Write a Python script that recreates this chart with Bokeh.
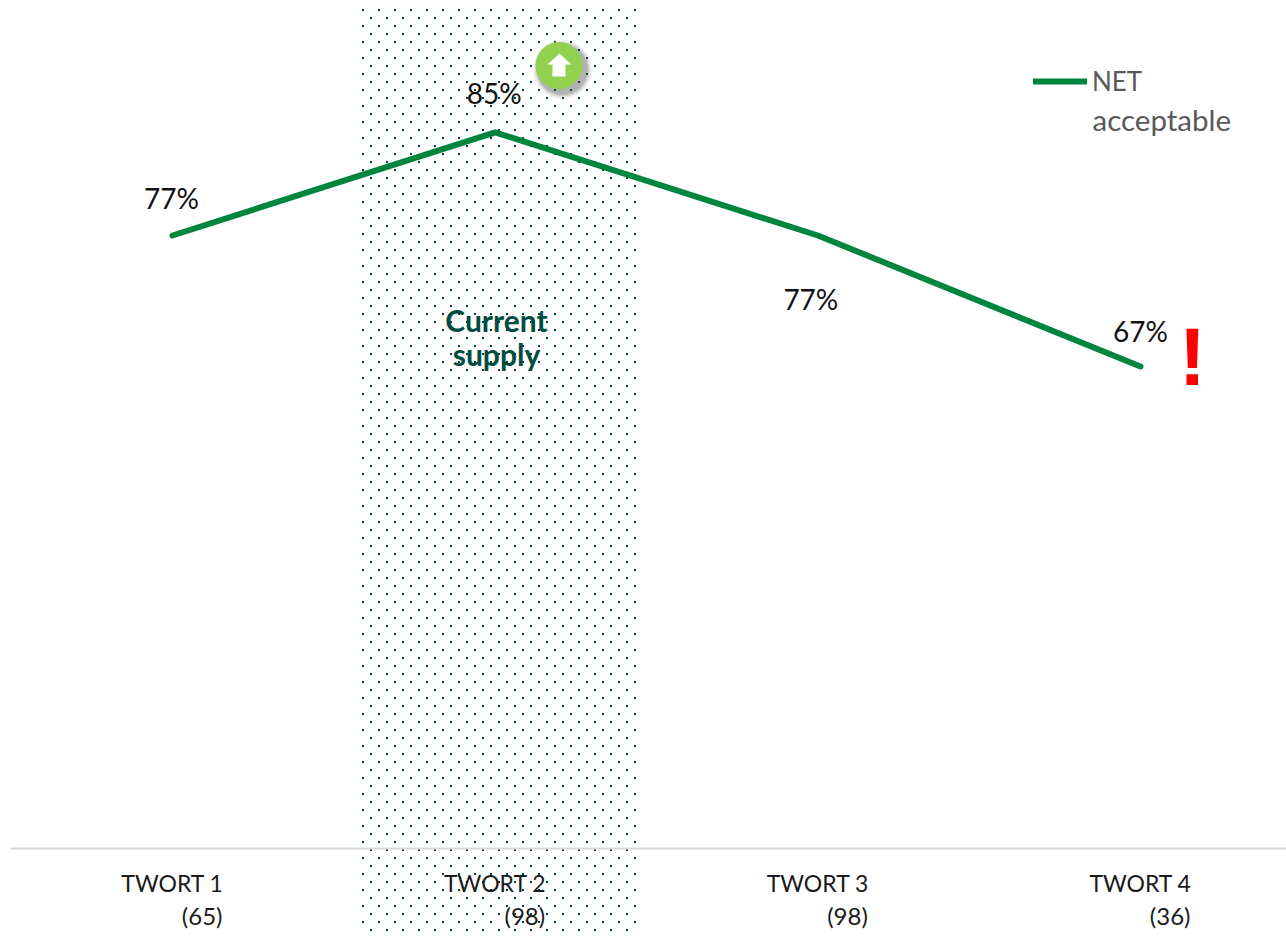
from bokeh.plotting import figure
from bokeh.embed import file_html
from bokeh.resources import INLINE
from bokeh.core.properties import value
from bokeh.models import Range1d, FixedTicker, Label, Legend, LegendItem
import numpy as np

categories = ["TWORT 1", "TWORT 2", "TWORT 3", "TWORT 4"]
counts = ["(65)", "(98)", "(98)", "(36)"]
net_acceptable = [77, 85, 77, 66.85]
value_labels = ["77%", "85%", "77%", "67%"]
band_label = ["Current", "supply"]
legend_lines = ["NET", "acceptable"]
x_pos = [1, 2, 3, 4]

W, H = 1286, 937
FONT = "Lato"
GREEN = "#00853f"
DARK = "#004040"
CAPTION = "#004d40"

# reference page pixels -> data coordinates (annotations only)
def xd(px):
    return 1 + (np.asarray(px, dtype=float) - 172) / 322.67

def yd(py):
    return 77 - (np.asarray(py, dtype=float) - 235) / 12.9

p = figure(width=W, height=H, output_backend="svg", toolbar_location=None,
           x_range=Range1d(float(xd(0)), float(xd(W))),
           y_range=Range1d(float(yd(H)), float(yd(0))),
           min_border=0, min_border_left=0, min_border_right=0,
           min_border_top=0, min_border_bottom=0)
p.outline_line_color = None
p.background_fill_color = "white"
p.border_fill_color = "white"
p.grid.visible = False
p.yaxis.visible = False

# dotted "current supply" band
rows = []
for r, y0 in enumerate(range(10, 932, 8)):
    xs = np.arange(363 if r % 2 == 0 else 371, 636, 16)
    rows.append(np.column_stack([xs, np.full(len(xs), y0)]))
dots = np.vstack(rows)
p.scatter(xd(dots[:, 0] - 0.5), yd(dots[:, 1] - 0.5), marker="square", size=2,
          fill_color=DARK, line_color=None)

# x axis
ax = p.xaxis[0]
ax.fixed_location = float(yd(848))
ax.bounds = (float(xd(10)), float(xd(W)))
ax.ticker = FixedTicker(ticks=x_pos)
ax.major_label_overrides = dict(zip(x_pos, categories))
ax.major_tick_line_color = None
ax.minor_tick_line_color = None
ax.axis_line_color = "#d9d9d9"
ax.axis_line_width = 2
ax.major_label_standoff = 14
ax.major_label_text_font = FONT
ax.major_label_text_font_size = "23px"
ax.major_label_text_color = "#1a1a1a"

# sample sizes under the categories
p.text(x_pos, [float(yd(848))] * 4, text=counts, x_offset=50, y_offset=67,
       text_align="right", text_baseline="alphabetic", text_font=value(FONT),
       text_font_size="24px", text_color="#1a1a1a")

# series
line = p.line(x_pos, net_acceptable, line_color=GREEN, line_width=6,
              line_cap="round", line_join="round")

# value labels
dx = [-1, -1, -7, 0]
dy = [-38, -39, 63, -35]
p.text(x_pos, net_acceptable, text=value_labels, x_offset=dx, y_offset=dy,
       text_align="center", text_baseline="alphabetic", text_font=value(FONT),
       text_font_size="28px", text_color="#111111")

# band caption
for txt, py in zip(band_label, [319, 353]):
    p.add_layout(Label(x=float(xd(496)), y=float(yd(py)), text=txt, text_align="center",
                       text_baseline="alphabetic", text_font=FONT, text_font_size="30px",
                       text_font_style="bold", text_color=CAPTION))

# up-arrow badge with soft shadow
for s, a in zip([60, 58, 56, 54, 52, 50], [0.03, 0.05, 0.07, 0.09, 0.11, 0.13]):
    p.scatter([float(xd(562))], [float(yd(69))], marker="circle", size=s,
              fill_color="#404040", fill_alpha=a, line_color=None)
p.scatter([float(xd(558.5))], [float(yd(65))], marker="circle", size=47,
          fill_color="#92d050", line_color=None)
p.patch(xd([559, 571, 565, 565, 552, 552, 547]), yd([53, 64, 64, 76, 76, 64, 64]),
        fill_color="white", line_color=None)

# exclamation mark
p.add_layout(Label(x=float(xd(1192)), y=float(yd(356)), text="!", text_align="center",
                   text_baseline="alphabetic", text_font="Liberation Sans",
                   text_font_size="82px", text_font_style="bold", text_color="#ff0000"))

# legend
lg = Legend(items=[LegendItem(label=legend_lines[0], renderers=[line])],
            location=(1033, H - 97), orientation="vertical", border_line_color=None,
            background_fill_alpha=0, padding=0, margin=0, glyph_width=54, glyph_height=24,
            label_standoff=5, label_text_font=FONT, label_text_font_size="26px",
            label_text_color="#595959", label_height=24)
p.add_layout(lg)
p.add_layout(Label(x=float(xd(1092)), y=float(yd(119)), text=legend_lines[1], text_align="left",
                   text_baseline="alphabetic", text_font=FONT, text_font_size="29.5px",
                   text_color="#595959"))

open("out.html", "w").write(file_html(p, INLINE))
